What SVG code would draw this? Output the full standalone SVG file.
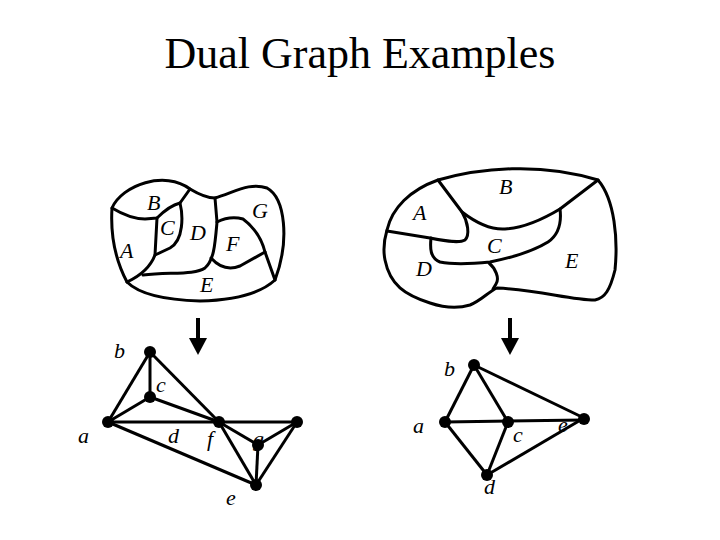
<svg xmlns="http://www.w3.org/2000/svg" width="720" height="540" viewBox="0 0 720 540">
<style>
.m{fill:none;stroke:#000;stroke-width:3;stroke-linejoin:round;stroke-linecap:round}
.e{stroke:#000;stroke-width:3}
.t{font-family:"Liberation Serif",serif;font-style:italic;font-size:22px}
.v{fill:#000}
</style>
<rect width="720" height="540" fill="#fff"/>
<text x="360" y="68" text-anchor="middle" font-family="Liberation Serif, serif" font-size="44">Dual Graph Examples</text>
<g id="leftmap">
<path class="m" d="M112,208 C122,185 165,170 190,189 C200,195 208,198 215,198 C235,192 250,182 267,188 C285,198 290,240 275,280 C262,292 240,300 200,301 C165,300 140,295 127,282 C118,265 110,240 112,208 Z"/>
<path class="m" d="M112,208 C122,214 132,219 145,219 L157,218 C165,210 172,205 180,203 L190,189"/>
<path class="m" d="M157,218 L155,255 C150,268 140,276 127,282"/>
<path class="m" d="M180,203 C183,215 184,240 170,248 L155,255"/>
<path class="m" d="M143,275 C170,272 195,275 205,268 C214,260 215,245 217,222 L215,198"/>
<path class="m" d="M217,222 C225,218 235,217 243,219 C255,228 262,240 265,252 L275,280"/>
<path class="m" d="M211,258 C220,268 230,270 240,266 L265,252"/>
</g>
<g id="leftlabels">
<text class="t" x="147" y="210">B</text>
<text class="t" x="160" y="235">C</text>
<text class="t" x="190" y="240">D</text>
<text class="t" x="120" y="258">A</text>
<text class="t" x="226" y="251">F</text>
<text class="t" x="252" y="218">G</text>
<text class="t" x="200" y="292">E</text>
</g>
<g id="rightmap">
<path class="m" d="M387,230 C392,208 410,190 438,180 C480,168 540,162 598,180 C615,200 618,240 615,270 C610,290 605,298 595,300 C570,300 540,290 497,288 C488,292 482,300 470,305 C460,308 445,308 430,303 C405,295 390,285 385,260 C383,250 384,240 387,230 Z"/>
<path class="m" d="M438,180 L462,212 C468,222 470,235 465,240 C460,243 450,242 430,238 L387,231"/>
<path class="m" d="M462,212 C475,222 490,230 505,229 C525,228 545,218 560,209 L598,180"/>
<path class="m" d="M560,209 C562,225 558,235 548,242 C530,253 510,258 490,262 C470,264 450,264 440,262 C430,258 430,248 431,238"/>
<path class="m" d="M489,263 C495,268 500,278 496,284 L493,289"/>
</g>
<g id="rightlabels">
<text class="t" x="413" y="220">A</text>
<text class="t" x="499" y="194">B</text>
<text class="t" x="487" y="253">C</text>
<text class="t" x="416" y="276">D</text>
<text class="t" x="565" y="268">E</text>
</g>
<g id="arrows">
<line x1="198" y1="318" x2="198" y2="340" stroke="#000" stroke-width="4"/>
<polygon points="189,338 207,338 198,355" fill="#000"/>
<line x1="510" y1="318" x2="510" y2="340" stroke="#000" stroke-width="4"/>
<polygon points="501,338 519,338 510,355" fill="#000"/>
</g>
<g id="connectors">
<line class="e" x1="108" y1="422" x2="150" y2="352"/>
<line class="e" x1="150" y1="352" x2="150" y2="397"/>
<line class="e" x1="150" y1="352" x2="219" y2="422"/>
<line class="e" x1="108" y1="422" x2="150" y2="397"/>
<line class="e" x1="150" y1="397" x2="219" y2="422"/>
<line class="e" x1="108" y1="422" x2="219" y2="422"/>
<line class="e" x1="108" y1="422" x2="256" y2="485"/>
<line class="e" x1="219" y1="422" x2="297" y2="422"/>
<line class="e" x1="219" y1="422" x2="258" y2="445"/>
<line class="e" x1="219" y1="422" x2="256" y2="485"/>
<line class="e" x1="258" y1="445" x2="297" y2="422"/>
<line class="e" x1="258" y1="445" x2="256" y2="485"/>
<line class="e" x1="256" y1="485" x2="297" y2="422"/>
<line class="e" x1="445" y1="422" x2="474" y2="365"/>
<line class="e" x1="474" y1="365" x2="508" y2="422"/>
<line class="e" x1="474" y1="365" x2="584" y2="418"/>
<line class="e" x1="445" y1="422" x2="584" y2="420"/>
<line class="e" x1="445" y1="422" x2="487" y2="475"/>
<line class="e" x1="508" y1="422" x2="487" y2="475"/>
<line class="e" x1="487" y1="475" x2="584" y2="418"/>
</g>
<g id="node-lb"><circle class="v" cx="150" cy="352" r="6"/><text class="t" x="114" y="358">b</text></g>
<g id="node-lc"><circle class="v" cx="150" cy="397" r="6"/><text class="t" x="156" y="392">c</text></g>
<g id="node-la"><circle class="v" cx="108" cy="422" r="6"/><text class="t" x="78" y="443">a</text></g>
<g id="node-ld"><text class="t" x="168" y="443">d</text></g>
<g id="node-lf"><circle class="v" cx="219" cy="422" r="6"/><text class="t" x="207" y="446">f</text></g>
<g id="node-lg"><circle class="v" cx="258" cy="445" r="6"/><text class="t" x="253" y="446">g</text></g>
<g id="node-lh"><circle class="v" cx="297" cy="422" r="6"/></g>
<g id="node-le"><circle class="v" cx="256" cy="485" r="6"/><text class="t" x="226" y="505">e</text></g>
<g id="node-rb"><circle class="v" cx="474" cy="365" r="6"/><text class="t" x="444" y="376">b</text></g>
<g id="node-ra"><circle class="v" cx="445" cy="422" r="6"/><text class="t" x="413" y="433">a</text></g>
<g id="node-rc"><circle class="v" cx="508" cy="422" r="6"/><text class="t" x="513" y="442">c</text></g>
<g id="node-re"><circle class="v" cx="584" cy="419" r="6"/><text class="t" x="558" y="432">e</text></g>
<g id="node-rd"><circle class="v" cx="487" cy="475" r="6"/><text class="t" x="484" y="494">d</text></g>
</svg>
